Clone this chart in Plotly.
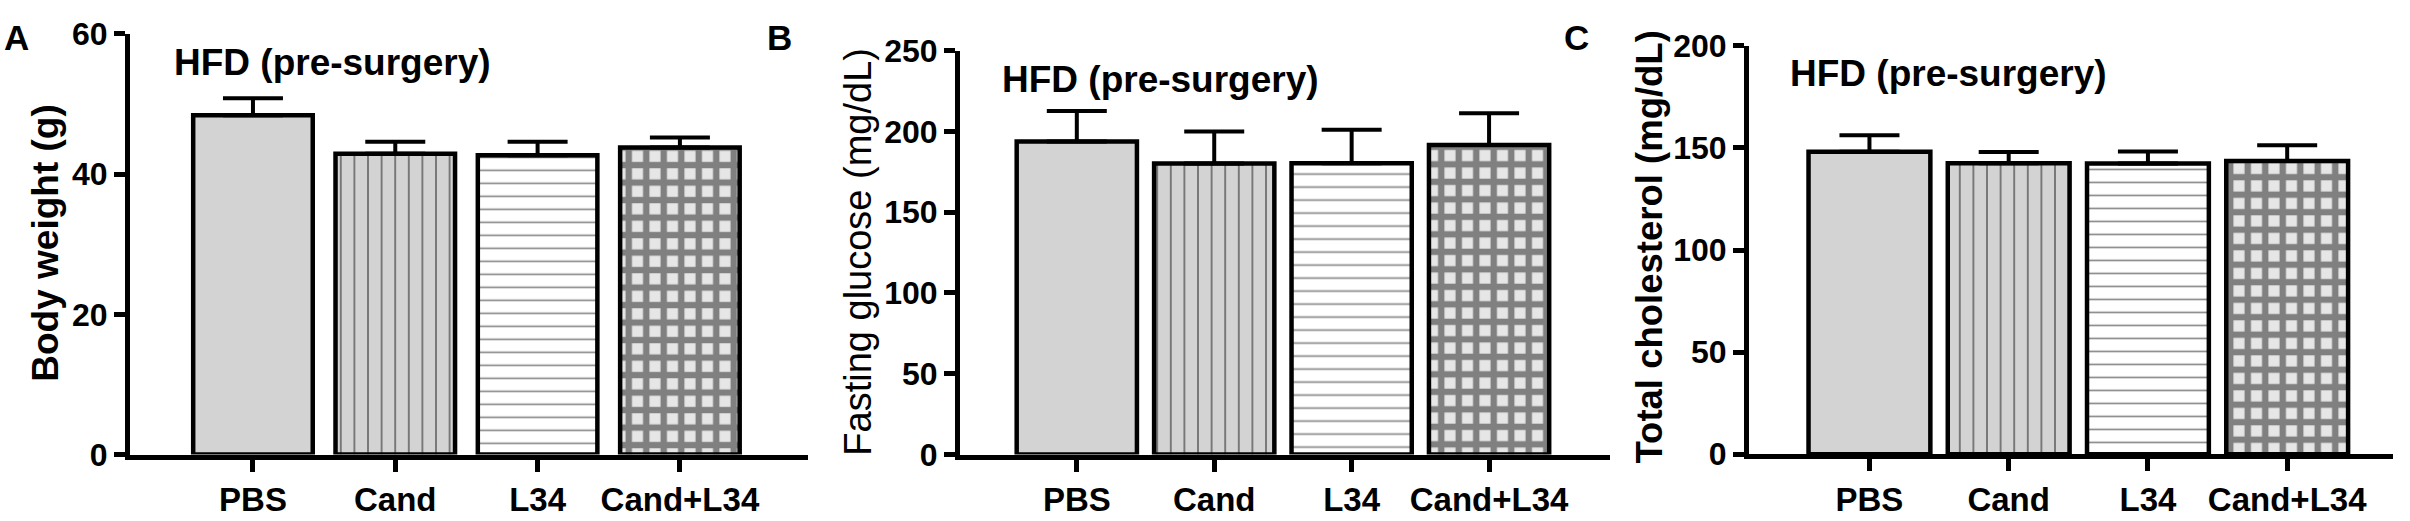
"""
# HFD pre-surgery bar charts: body weight / fasting glucose / total cholesterol
"""

import plotly.graph_objects as go

W, H = 2410, 521

groups = ["PBS", "Cand", "L34", "Cand+L34"]

# A: body weight (g)
bw_mean = [48.4, 42.9, 42.7, 43.8]
bw_sem = [2.4, 1.7, 1.9, 1.4]
# B: fasting glucose (mg/dL)
glu_mean = [193.8, 180.1, 180.3, 191.6]
glu_sem = [18.8, 19.9, 20.7, 19.6]
# C: total cholesterol (mg/dL)
chol_mean = [148.1, 142.5, 142.4, 143.6]
chol_sem = [8.1, 5.5, 5.9, 7.7]

bw_ticks = [0, 20, 40, 60]
glu_ticks = [0, 50, 100, 150, 200, 250]
chol_ticks = [0, 50, 100, 150, 200]

FONT = "Liberation Sans"

# fill style per group: (shape, bg, fg, size, solidity)
styles = {
    "PBS": ("", "#d3d3d3", "#d3d3d3", 10, 0.1),
    "Cand": ("|", "#d3d3d3", "#6f6f6f", 13.6, 0.13),
    "L34": ("-", "#ffffff", "#8a8a8a", 13.0, 0.13),
    "Cand+L34": ("+", "#e6e6e6", "#808080", 17.5, 0.6),
}


def px_x(p):
    return p / W


def px_y(p):
    return (H - p) / H


def add_panel(fig, n, means, sems, barw):
    xa = "x" if n == 1 else "x%d" % n
    ya = "y" if n == 1 else "y%d" % n
    for g, m, s in zip(groups, means, sems):
        shape, bg, fg, size, sol = styles[g]
        fig.add_trace(go.Bar(
            x=[g], y=[m],
            xaxis=xa, yaxis=ya,
            width=barw,
            marker=dict(
                color=bg,
                line=dict(color="black", width=4.5),
                pattern=dict(shape=shape, bgcolor=bg, fgcolor=fg,
                             size=size, solidity=sol, fillmode="replace"),
            ),
            error_y=dict(type="data", symmetric=False, array=[s], arrayminus=[0],
                         color="black", thickness=4, width=30),
            showlegend=False,
        ))


fig = go.Figure()
add_panel(fig, 1, bw_mean, bw_sem, 0.84)
add_panel(fig, 2, glu_mean, glu_sem, 0.875)
add_panel(fig, 3, chol_mean, chol_sem, 0.875)

xcommon = dict(showline=True, linewidth=5, linecolor="black", ticks="outside",
               ticklen=12, tickwidth=4.5, tickcolor="black", showgrid=False,
               zeroline=False, type="category", categoryorder="array",
               categoryarray=groups,
               tickfont=dict(family=FONT, size=33, color="black", weight="bold"))
ycommon = dict(showline=True, linewidth=5, linecolor="black", ticks="outside",
               ticklen=11, tickwidth=4.5, tickcolor="black", showgrid=False,
               zeroline=False,
               tickfont=dict(family=FONT, size=32, color="black", weight="bold"))

fig.update_layout(
    width=W, height=H, autosize=False,
    margin=dict(l=0, r=0, t=0, b=0),
    paper_bgcolor="white", plot_bgcolor="white",
    barmode="overlay",
    xaxis=dict(xcommon, domain=[px_x(130), px_x(808)], range=[-0.864, 3.9], anchor="y"),
    yaxis=dict(ycommon, domain=[px_y(469), px_y(17)], range=[0, 60],
               tickvals=bw_ticks, anchor="x"),
    xaxis2=dict(xcommon, domain=[px_x(960), px_x(1610)], range=[-0.85, 3.88], anchor="y2"),
    yaxis2=dict(ycommon, domain=[px_y(469), px_y(35)], range=[0, 250],
                tickvals=glu_ticks, anchor="x2"),
    xaxis3=dict(xcommon, domain=[px_x(1749), px_x(2393)], range=[-0.865, 3.76], anchor="y3"),
    yaxis3=dict(ycommon, domain=[px_y(468.5), px_y(30)], range=[0, 200],
                tickvals=chol_ticks, anchor="x3"),
)

notes = []
# panel letters
for letter, cx in [("A", 16), ("B", 779), ("C", 1576)]:
    notes.append(dict(text=letter, x=px_x(cx), y=px_y(21), xanchor="center", yanchor="middle",
                      font=dict(family=FONT, size=35, color="black", weight="bold")))
# subtitles
for lx, cy in [(172, 48), (1000, 66), (1788, 60)]:
    notes.append(dict(text="HFD (pre-surgery)", x=px_x(lx), y=px_y(cy), xanchor="left",
                      yanchor="middle",
                      font=dict(family=FONT, size=37, color="black", weight="bold")))
# y axis titles
ytitles = [("Body weight (g)", 46, 242.5, 37, "bold"),
           ("Fasting glucose (mg/dL)", 858, 251, 38, "normal"),
           ("Total cholesterol (mg/dL)", 1649, 246.5, 36.5, "bold")]
for t, cx, cy, sz, wt in ytitles:
    notes.append(dict(text=t, x=px_x(cx), y=px_y(cy), xanchor="center", yanchor="middle",
                      textangle=-90,
                      font=dict(family=FONT, size=sz, color="black", weight=wt)))

for a in notes:
    a.update(xref="paper", yref="paper", showarrow=False)
fig.update_layout(annotations=notes)

# page body has a default margin that pushes the figure down
fig.write_html("out.html", config={"displayModeBar": False},
               post_script="document.body.style.margin='0';")
